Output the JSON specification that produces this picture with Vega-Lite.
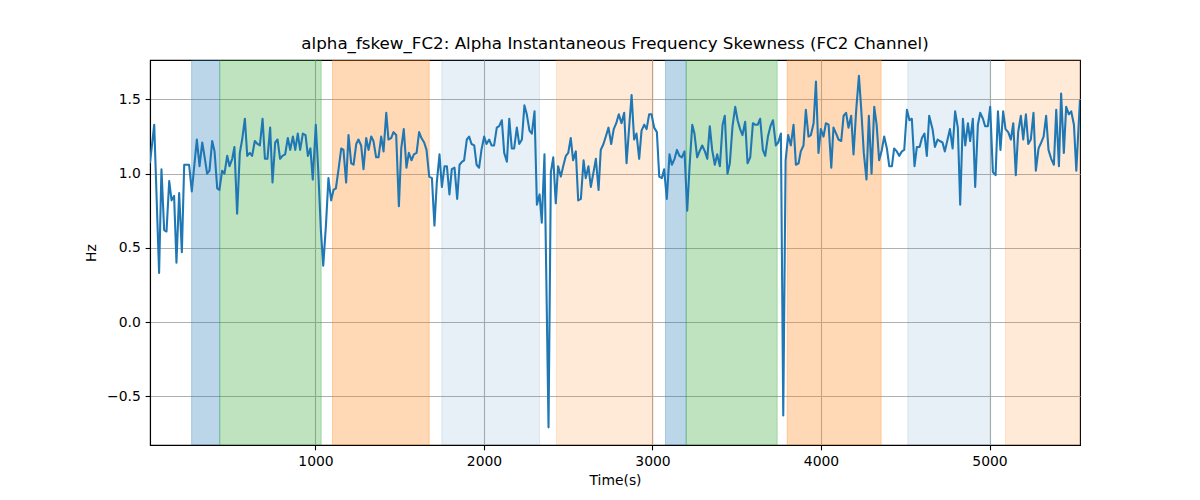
{
  "$schema": "https://vega.github.io/schema/vega-lite/v6.json",
  "autosize": "none",
  "width": 930,
  "height": 385,
  "padding": {"left": 150, "top": 60, "right": 120, "bottom": 55},
  "background": "white",
  "title": {
    "text": "alpha_fskew_FC2: Alpha Instantaneous Frequency Skewness (FC2 Channel)",
    "font": "DejaVu Sans",
    "fontSize": 16.7,
    "fontWeight": "normal",
    "color": "black",
    "anchor": "middle",
    "frame": "group",
    "offset": 7
  },
  "config": {
    "view": {"stroke": "black", "strokeWidth": 1.1},
    "axis": {
      "labelFont": "DejaVu Sans",
      "labelFontSize": 13.9,
      "labelColor": "black",
      "titleFont": "DejaVu Sans",
      "titleFontSize": 13.9,
      "titleFontWeight": "normal",
      "titleColor": "black",
      "domainColor": "black",
      "domainWidth": 1.1,
      "tickColor": "black",
      "tickWidth": 1.1,
      "tickSize": 4.86,
      "labelPadding": 4.86,
      "gridColor": "#b0b0b0",
      "gridWidth": 1.1
    }
  },
  "datasets": {
    "spans": [
      {"start": 265, "end": 432, "phase": "p1"},
      {"start": 432, "end": 1034, "phase": "p2"},
      {"start": 1101, "end": 1675, "phase": "p3"},
      {"start": 1750, "end": 2330, "phase": "p4"},
      {"start": 2430, "end": 3004, "phase": "p5"},
      {"start": 3077, "end": 3200, "phase": "p1"},
      {"start": 3200, "end": 3740, "phase": "p2"},
      {"start": 3799, "end": 4357, "phase": "p3"},
      {"start": 4515, "end": 5004, "phase": "p4"},
      {"start": 5095, "end": 5537, "phase": "p5"}
    ],
    "series": [
      {"t": 18, "v": 1.07}, {"t": 43, "v": 1.33}, {"t": 72, "v": 0.33}, {"t": 86, "v": 1.03},
      {"t": 102, "v": 0.62}, {"t": 116, "v": 0.61}, {"t": 132, "v": 0.95}, {"t": 146, "v": 0.82},
      {"t": 161, "v": 0.85}, {"t": 175, "v": 0.4}, {"t": 191, "v": 0.87}, {"t": 207, "v": 0.47},
      {"t": 221, "v": 1.06}, {"t": 237, "v": 1.06}, {"t": 250, "v": 1.06}, {"t": 266, "v": 0.88},
      {"t": 296, "v": 1.23}, {"t": 312, "v": 1.05}, {"t": 328, "v": 1.21}, {"t": 341, "v": 1.12},
      {"t": 357, "v": 1.0}, {"t": 371, "v": 1.02}, {"t": 387, "v": 1.22}, {"t": 401, "v": 1.15},
      {"t": 417, "v": 0.9}, {"t": 430, "v": 0.89}, {"t": 446, "v": 1.02}, {"t": 460, "v": 1.0},
      {"t": 476, "v": 1.12}, {"t": 490, "v": 1.05}, {"t": 506, "v": 1.1}, {"t": 519, "v": 1.18},
      {"t": 535, "v": 0.73}, {"t": 551, "v": 1.14}, {"t": 565, "v": 1.23}, {"t": 581, "v": 1.37},
      {"t": 595, "v": 1.12}, {"t": 610, "v": 1.14}, {"t": 624, "v": 1.12}, {"t": 640, "v": 1.22},
      {"t": 656, "v": 1.2}, {"t": 670, "v": 1.19}, {"t": 686, "v": 1.37}, {"t": 700, "v": 1.1},
      {"t": 715, "v": 1.1}, {"t": 731, "v": 1.31}, {"t": 745, "v": 0.94}, {"t": 761, "v": 1.21},
      {"t": 775, "v": 1.23}, {"t": 790, "v": 1.1}, {"t": 804, "v": 1.12}, {"t": 820, "v": 1.13},
      {"t": 836, "v": 1.24}, {"t": 850, "v": 1.16}, {"t": 866, "v": 1.25}, {"t": 880, "v": 1.16},
      {"t": 895, "v": 1.27}, {"t": 909, "v": 1.16}, {"t": 925, "v": 1.27}, {"t": 941, "v": 1.26},
      {"t": 955, "v": 1.12}, {"t": 970, "v": 1.17}, {"t": 984, "v": 0.96}, {"t": 1002, "v": 1.33},
      {"t": 1016, "v": 1.03}, {"t": 1032, "v": 0.62}, {"t": 1046, "v": 0.38}, {"t": 1062, "v": 0.65},
      {"t": 1077, "v": 0.97}, {"t": 1093, "v": 0.82}, {"t": 1107, "v": 0.89}, {"t": 1121, "v": 0.9},
      {"t": 1137, "v": 1.03}, {"t": 1153, "v": 1.17}, {"t": 1166, "v": 1.16}, {"t": 1182, "v": 0.94},
      {"t": 1196, "v": 1.26}, {"t": 1212, "v": 1.07}, {"t": 1226, "v": 1.06}, {"t": 1242, "v": 1.2},
      {"t": 1255, "v": 1.23}, {"t": 1271, "v": 1.19}, {"t": 1285, "v": 1.03}, {"t": 1301, "v": 1.24},
      {"t": 1315, "v": 1.16}, {"t": 1331, "v": 1.25}, {"t": 1344, "v": 1.22}, {"t": 1360, "v": 1.11},
      {"t": 1374, "v": 1.11}, {"t": 1390, "v": 1.25}, {"t": 1404, "v": 1.15}, {"t": 1420, "v": 1.41},
      {"t": 1433, "v": 1.23}, {"t": 1449, "v": 1.24}, {"t": 1463, "v": 1.28}, {"t": 1479, "v": 1.26},
      {"t": 1495, "v": 0.78}, {"t": 1509, "v": 1.17}, {"t": 1524, "v": 1.3}, {"t": 1540, "v": 1.04},
      {"t": 1554, "v": 1.14}, {"t": 1570, "v": 1.09}, {"t": 1584, "v": 1.13}, {"t": 1600, "v": 1.14},
      {"t": 1615, "v": 1.28}, {"t": 1629, "v": 1.24}, {"t": 1645, "v": 1.21}, {"t": 1659, "v": 1.16},
      {"t": 1675, "v": 0.98}, {"t": 1691, "v": 0.97}, {"t": 1706, "v": 0.65}, {"t": 1720, "v": 0.94},
      {"t": 1736, "v": 1.13}, {"t": 1750, "v": 0.91}, {"t": 1766, "v": 1.05}, {"t": 1780, "v": 1.05},
      {"t": 1795, "v": 0.86}, {"t": 1809, "v": 1.03}, {"t": 1825, "v": 1.04}, {"t": 1841, "v": 0.83},
      {"t": 1855, "v": 1.06}, {"t": 1869, "v": 1.08}, {"t": 1882, "v": 1.09}, {"t": 1898, "v": 1.23},
      {"t": 1912, "v": 1.25}, {"t": 1926, "v": 1.2}, {"t": 1942, "v": 1.19}, {"t": 1956, "v": 1.06},
      {"t": 1971, "v": 1.04}, {"t": 1985, "v": 1.16}, {"t": 2001, "v": 1.25}, {"t": 2015, "v": 1.2},
      {"t": 2031, "v": 1.23}, {"t": 2045, "v": 1.19}, {"t": 2060, "v": 1.19}, {"t": 2076, "v": 1.31},
      {"t": 2090, "v": 1.32}, {"t": 2106, "v": 1.36}, {"t": 2120, "v": 1.14}, {"t": 2136, "v": 1.08},
      {"t": 2150, "v": 1.37}, {"t": 2165, "v": 1.17}, {"t": 2179, "v": 1.17}, {"t": 2195, "v": 1.31},
      {"t": 2209, "v": 1.2}, {"t": 2225, "v": 1.23}, {"t": 2240, "v": 1.46}, {"t": 2254, "v": 1.4},
      {"t": 2270, "v": 1.29}, {"t": 2284, "v": 1.27}, {"t": 2300, "v": 1.42}, {"t": 2314, "v": 0.79},
      {"t": 2330, "v": 0.86}, {"t": 2343, "v": 0.67}, {"t": 2359, "v": 1.13}, {"t": 2383, "v": -0.71},
      {"t": 2397, "v": 1.01}, {"t": 2411, "v": 1.11}, {"t": 2426, "v": 0.8}, {"t": 2440, "v": 1.05},
      {"t": 2456, "v": 0.98}, {"t": 2470, "v": 1.05}, {"t": 2486, "v": 1.12}, {"t": 2500, "v": 1.14},
      {"t": 2515, "v": 1.24}, {"t": 2529, "v": 1.09}, {"t": 2545, "v": 1.15}, {"t": 2559, "v": 0.82},
      {"t": 2575, "v": 0.83}, {"t": 2591, "v": 1.09}, {"t": 2604, "v": 0.97}, {"t": 2620, "v": 1.05},
      {"t": 2634, "v": 0.91}, {"t": 2650, "v": 1.01}, {"t": 2664, "v": 1.1}, {"t": 2680, "v": 0.89},
      {"t": 2693, "v": 1.16}, {"t": 2709, "v": 1.2}, {"t": 2723, "v": 1.25}, {"t": 2739, "v": 1.31},
      {"t": 2755, "v": 1.2}, {"t": 2770, "v": 1.3}, {"t": 2785, "v": 1.34}, {"t": 2800, "v": 1.4},
      {"t": 2816, "v": 1.34}, {"t": 2832, "v": 1.41}, {"t": 2846, "v": 1.07}, {"t": 2862, "v": 1.32},
      {"t": 2876, "v": 1.53}, {"t": 2891, "v": 1.23}, {"t": 2905, "v": 1.27}, {"t": 2921, "v": 1.1},
      {"t": 2935, "v": 1.29}, {"t": 2951, "v": 1.33}, {"t": 2965, "v": 1.3}, {"t": 2980, "v": 1.4},
      {"t": 2994, "v": 1.4}, {"t": 3010, "v": 1.31}, {"t": 3026, "v": 1.28}, {"t": 3040, "v": 0.98},
      {"t": 3056, "v": 0.97}, {"t": 3069, "v": 1.03}, {"t": 3085, "v": 0.83}, {"t": 3101, "v": 1.13},
      {"t": 3115, "v": 1.06}, {"t": 3131, "v": 1.1}, {"t": 3145, "v": 1.16}, {"t": 3160, "v": 1.12},
      {"t": 3174, "v": 1.11}, {"t": 3190, "v": 1.15}, {"t": 3206, "v": 0.75}, {"t": 3220, "v": 1.05},
      {"t": 3236, "v": 1.33}, {"t": 3249, "v": 1.27}, {"t": 3265, "v": 1.11}, {"t": 3279, "v": 1.15},
      {"t": 3295, "v": 1.19}, {"t": 3311, "v": 1.15}, {"t": 3325, "v": 1.1}, {"t": 3340, "v": 1.32},
      {"t": 3354, "v": 1.16}, {"t": 3370, "v": 1.06}, {"t": 3384, "v": 1.13}, {"t": 3400, "v": 1.05},
      {"t": 3416, "v": 1.33}, {"t": 3429, "v": 1.39}, {"t": 3445, "v": 1.0}, {"t": 3459, "v": 1.07},
      {"t": 3475, "v": 1.32}, {"t": 3491, "v": 1.45}, {"t": 3505, "v": 1.36}, {"t": 3520, "v": 1.3},
      {"t": 3534, "v": 1.26}, {"t": 3550, "v": 1.35}, {"t": 3564, "v": 1.07}, {"t": 3580, "v": 1.11},
      {"t": 3596, "v": 1.34}, {"t": 3609, "v": 1.33}, {"t": 3625, "v": 1.33}, {"t": 3639, "v": 1.37},
      {"t": 3655, "v": 1.16}, {"t": 3669, "v": 1.12}, {"t": 3685, "v": 1.25}, {"t": 3700, "v": 1.32},
      {"t": 3715, "v": 1.36}, {"t": 3732, "v": 1.19}, {"t": 3746, "v": 1.21}, {"t": 3762, "v": 1.27},
      {"t": 3776, "v": -0.63}, {"t": 3790, "v": 1.09}, {"t": 3805, "v": 1.26}, {"t": 3821, "v": 1.19},
      {"t": 3837, "v": 1.33}, {"t": 3851, "v": 1.06}, {"t": 3867, "v": 1.07}, {"t": 3880, "v": 1.15},
      {"t": 3896, "v": 1.19}, {"t": 3910, "v": 1.43}, {"t": 3926, "v": 1.25}, {"t": 3940, "v": 1.26},
      {"t": 3956, "v": 1.34}, {"t": 3970, "v": 1.62}, {"t": 3985, "v": 1.14}, {"t": 3999, "v": 1.3},
      {"t": 4015, "v": 1.25}, {"t": 4029, "v": 1.34}, {"t": 4045, "v": 1.33}, {"t": 4061, "v": 1.04},
      {"t": 4074, "v": 1.31}, {"t": 4090, "v": 1.27}, {"t": 4104, "v": 1.23}, {"t": 4120, "v": 1.22},
      {"t": 4134, "v": 1.39}, {"t": 4149, "v": 1.41}, {"t": 4163, "v": 1.31}, {"t": 4179, "v": 1.39},
      {"t": 4193, "v": 1.13}, {"t": 4209, "v": 1.43}, {"t": 4225, "v": 1.66}, {"t": 4239, "v": 1.43},
      {"t": 4254, "v": 1.14}, {"t": 4270, "v": 0.96}, {"t": 4284, "v": 1.39}, {"t": 4300, "v": 1.0},
      {"t": 4316, "v": 1.45}, {"t": 4330, "v": 1.33}, {"t": 4345, "v": 1.09}, {"t": 4361, "v": 1.16},
      {"t": 4375, "v": 1.25}, {"t": 4391, "v": 1.17}, {"t": 4405, "v": 1.05}, {"t": 4421, "v": 1.05},
      {"t": 4434, "v": 1.17}, {"t": 4450, "v": 1.15}, {"t": 4464, "v": 1.12}, {"t": 4480, "v": 1.15},
      {"t": 4494, "v": 1.16}, {"t": 4510, "v": 1.43}, {"t": 4525, "v": 1.36}, {"t": 4539, "v": 1.37},
      {"t": 4555, "v": 1.05}, {"t": 4569, "v": 1.18}, {"t": 4585, "v": 1.18}, {"t": 4599, "v": 1.24},
      {"t": 4614, "v": 1.27}, {"t": 4628, "v": 1.12}, {"t": 4642, "v": 1.39}, {"t": 4662, "v": 1.3},
      {"t": 4676, "v": 1.18}, {"t": 4692, "v": 1.23}, {"t": 4705, "v": 1.22}, {"t": 4721, "v": 1.21},
      {"t": 4735, "v": 1.15}, {"t": 4751, "v": 1.23}, {"t": 4765, "v": 1.3}, {"t": 4781, "v": 1.17},
      {"t": 4796, "v": 1.42}, {"t": 4812, "v": 1.31}, {"t": 4826, "v": 0.79}, {"t": 4842, "v": 1.37},
      {"t": 4856, "v": 1.19}, {"t": 4872, "v": 1.34}, {"t": 4885, "v": 1.22}, {"t": 4901, "v": 1.37},
      {"t": 4915, "v": 0.91}, {"t": 4931, "v": 1.33}, {"t": 4945, "v": 1.41}, {"t": 4961, "v": 1.37},
      {"t": 4974, "v": 1.32}, {"t": 4990, "v": 1.32}, {"t": 5004, "v": 1.45}, {"t": 5020, "v": 1.01},
      {"t": 5036, "v": 0.99}, {"t": 5050, "v": 1.42}, {"t": 5065, "v": 1.16}, {"t": 5081, "v": 1.42},
      {"t": 5095, "v": 1.3}, {"t": 5111, "v": 1.28}, {"t": 5127, "v": 1.23}, {"t": 5141, "v": 1.34},
      {"t": 5156, "v": 0.99}, {"t": 5170, "v": 1.28}, {"t": 5186, "v": 1.39}, {"t": 5200, "v": 1.23},
      {"t": 5216, "v": 1.4}, {"t": 5230, "v": 1.2}, {"t": 5245, "v": 1.23}, {"t": 5261, "v": 1.41},
      {"t": 5275, "v": 1.02}, {"t": 5291, "v": 1.17}, {"t": 5307, "v": 1.21}, {"t": 5321, "v": 1.25},
      {"t": 5336, "v": 1.39}, {"t": 5350, "v": 1.16}, {"t": 5366, "v": 1.1}, {"t": 5382, "v": 1.06},
      {"t": 5396, "v": 1.43}, {"t": 5412, "v": 1.05}, {"t": 5425, "v": 1.54}, {"t": 5441, "v": 1.14},
      {"t": 5455, "v": 1.45}, {"t": 5471, "v": 1.4}, {"t": 5485, "v": 1.42}, {"t": 5501, "v": 1.33},
      {"t": 5515, "v": 1.02}, {"t": 5537, "v": 1.5}
    ]
  },
  "layer": [
    {
      "data": {"name": "spans"},
      "mark": {"type": "rect", "strokeWidth": 1, "clip": true},
      "encoding": {
        "x": {
          "field": "start",
          "type": "quantitative",
          "scale": {"domain": [18, 5537], "nice": false, "zero": false},
          "axis": {
            "title": "Time(s)",
            "values": [1000, 2000, 3000, 4000, 5000],
            "format": "d",
            "grid": true,
            "titlePadding": 5
          }
        },
        "x2": {"field": "end"},
        "color": {
          "field": "phase",
          "type": "nominal",
          "scale": {
            "domain": ["p1", "p2", "p3", "p4", "p5"],
            "range": [
              "rgba(31,119,180,0.3)",
              "rgba(44,160,44,0.3)",
              "rgba(255,127,14,0.3)",
              "rgba(31,119,180,0.115)",
              "rgba(255,127,14,0.16)"
            ]
          },
          "legend": null
        },
        "stroke": {
          "field": "phase",
          "type": "nominal",
          "scale": {
            "domain": ["p1", "p2", "p3", "p4", "p5"],
            "range": [
              "rgba(31,119,180,0.3)",
              "rgba(44,160,44,0.3)",
              "rgba(255,127,14,0.3)",
              "rgba(31,119,180,0.115)",
              "rgba(255,127,14,0.16)"
            ]
          },
          "legend": null
        }
      }
    },
    {
      "data": {"name": "series"},
      "mark": {"type": "line", "color": "#1f77b4", "strokeWidth": 2.08, "strokeJoin": "round", "strokeCap": "butt", "clip": true},
      "encoding": {
        "x": {"field": "t", "type": "quantitative"},
        "y": {
          "field": "v",
          "type": "quantitative",
          "scale": {"domain": [-0.829, 1.766], "nice": false, "zero": false},
          "axis": {
            "title": "Hz",
            "values": [-0.5, 0, 0.5, 1, 1.5],
            "format": ".1f",
            "grid": true,
            "titlePadding": 8
          }
        }
      }
    }
  ]
}
